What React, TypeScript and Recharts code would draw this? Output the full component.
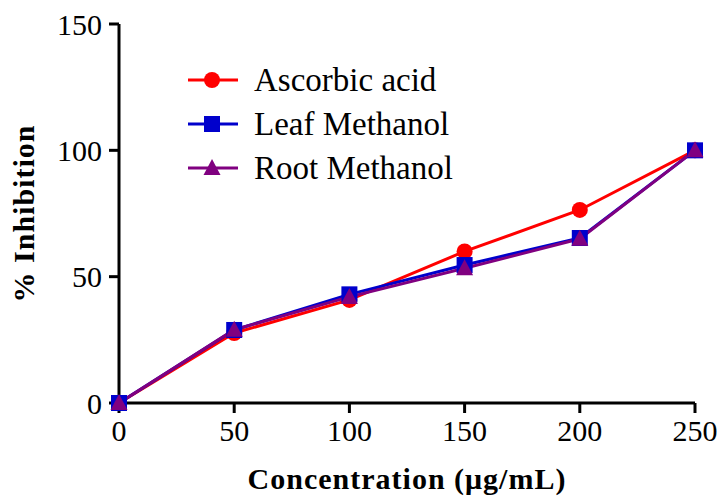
import React from 'react';
import { LineChart, Line, XAxis, YAxis } from 'recharts';

const concentrations = [0, 50, 100, 150, 200, 250];
const ascorbicAcid = [0, 27.7, 40.8, 60, 76.4, 100];
const leafMethanol = [0, 28.9, 43, 54.6, 65.3, 100];
const rootMethanol = [0, 29, 42, 53.3, 65, 100];
const xTicks = [0, 50, 100, 150, 200, 250];
const yTicks = [0, 50, 100, 150];

const data = concentrations.map((c, i) => ({
  conc: c,
  ascorbic: ascorbicAcid[i],
  leaf: leafMethanol[i],
  root: rootMethanol[i],
}));

const RED = '#ff0000';
const BLUE = '#0000cc';
const PURPLE = '#800080';
const FONT = '"Liberation Serif", "Times New Roman", serif';

const CircleDot = (props: any) => {
  const { cx, cy, index } = props;
  return <circle key={`a${index}`} cx={cx} cy={cy} r={8} fill={RED} />;
};

const SquareDot = (props: any) => {
  const { cx, cy, index } = props;
  return <rect key={`l${index}`} x={cx - 8} y={cy - 8} width={16} height={16} fill={BLUE} />;
};

const TriangleDot = (props: any) => {
  const { cx, cy, index } = props;
  return (
    <polygon
      key={`r${index}`}
      points={`${cx},${cy - 9} ${cx + 8.5},${cy + 7} ${cx - 8.5},${cy + 7}`}
      fill={PURPLE}
    />
  );
};

const legendItems = [
  { label: 'Ascorbic acid', color: RED, shape: 'circle' },
  { label: 'Leaf Methanol', color: BLUE, shape: 'square' },
  { label: 'Root Methanol', color: PURPLE, shape: 'triangle' },
];

const ChartLegend = () => (
  <div
    style={{
      position: 'absolute',
      left: 188,
      top: 58,
      fontFamily: FONT,
      fontSize: 33,
      color: '#000',
      lineHeight: 1,
    }}
  >
    {legendItems.map((it) => (
      <div key={it.label} style={{ display: 'flex', alignItems: 'center', height: 44 }}>
        <svg width={52} height={20} style={{ marginRight: 14 }}>
          <line x1={0} y1={10} x2={50} y2={10} stroke={it.color} strokeWidth={3} />
          {it.shape === 'circle' && <circle cx={24} cy={10} r={8} fill={it.color} />}
          {it.shape === 'square' && <rect x={16} y={2} width={16} height={16} fill={it.color} />}
          {it.shape === 'triangle' && <polygon points="24,1 32.5,17 15.5,17" fill={it.color} />}
        </svg>
        <span>{it.label}</span>
      </div>
    ))}
  </div>
);

const tickStyle = { fontFamily: FONT, fontSize: 30, fill: '#000' };
const titleStyle = { fontFamily: FONT, fontSize: 30, fontWeight: 'bold', fill: '#000', letterSpacing: 1 };

export default function App() {
  return (
    <div style={{ position: 'absolute', left: 0, top: 0, width: 724, height: 497, background: '#fff' }}>
      <LineChart width={724} height={497} data={data} margin={{ top: 24, right: 29, bottom: 0, left: 0 }}>
        <XAxis
          dataKey="conc"
          type="number"
          domain={[0, 250]}
          ticks={xTicks}
          height={94}
          tickSize={10}
          tickMargin={7}
          tick={tickStyle}
          axisLine={{ stroke: '#000', strokeWidth: 3 }}
          tickLine={{ stroke: '#000', strokeWidth: 3 }}
          label={{ value: 'Concentration (μg/mL)', position: 'insideBottom', offset: 8, style: titleStyle }}
        />
        <YAxis
          type="number"
          domain={[0, 150]}
          ticks={yTicks}
          width={119}
          tickSize={10}
          tickMargin={7}
          tick={tickStyle}
          axisLine={{ stroke: '#000', strokeWidth: 3 }}
          tickLine={{ stroke: '#000', strokeWidth: 3 }}
          label={{
            value: '% Inhibition',
            angle: -90,
            position: 'insideLeft',
            offset: 23,
            style: { ...titleStyle, textAnchor: 'middle' },
          }}
        />
        <Line
          dataKey="ascorbic"
          stroke={RED}
          strokeWidth={3}
          dot={CircleDot}
          activeDot={false}
          isAnimationActive={false}
        />
        <Line
          dataKey="leaf"
          stroke={BLUE}
          strokeWidth={3}
          dot={SquareDot}
          activeDot={false}
          isAnimationActive={false}
        />
        <Line
          dataKey="root"
          stroke={PURPLE}
          strokeWidth={3}
          dot={TriangleDot}
          activeDot={false}
          isAnimationActive={false}
        />
      </LineChart>
      <ChartLegend />
    </div>
  );
}
